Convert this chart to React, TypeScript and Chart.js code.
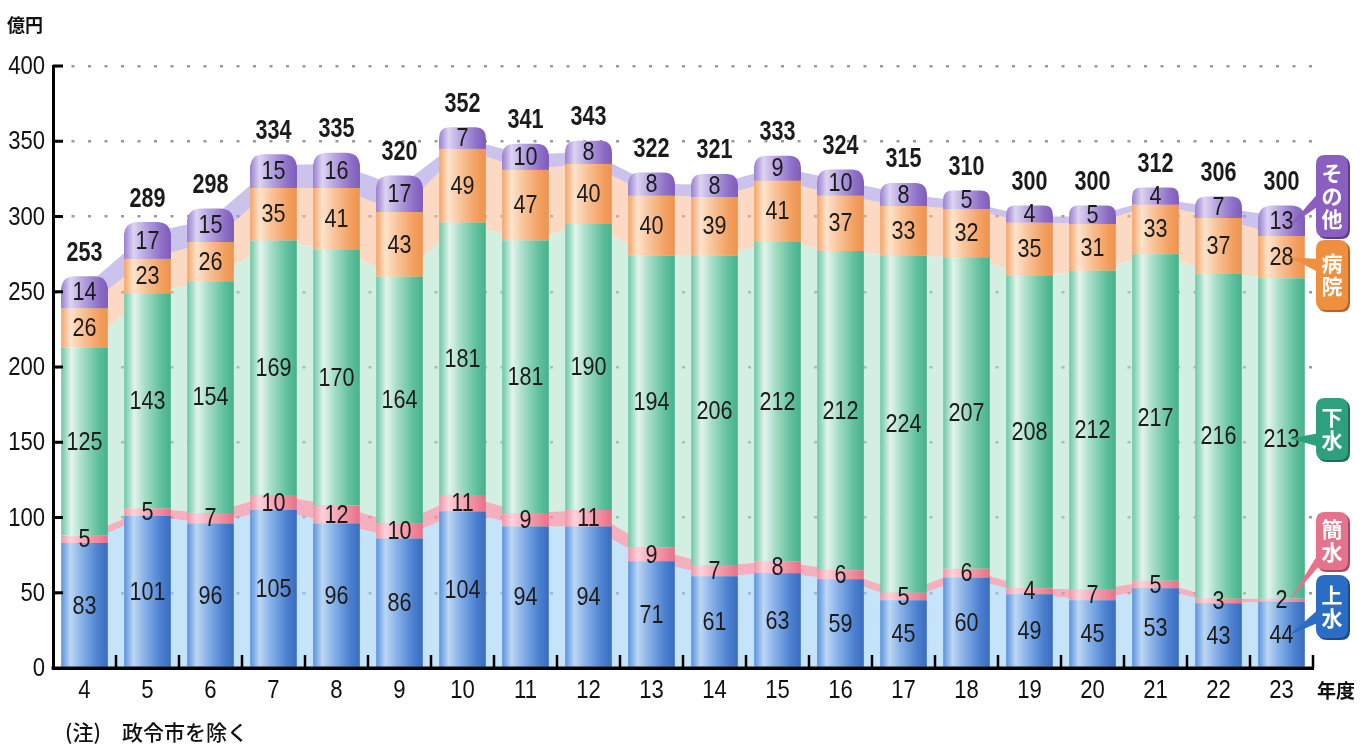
import React, { useEffect, useRef } from "react";
import { Chart, registerables } from "chart.js";
Chart.register(...registerables);

// ---- data ----
const years = ["4","5","6","7","8","9","10","11","12","13","14","15","16","17","18","19","20","21","22","23"];
const josui = [83,101,96,105,96,86,104,94,94,71,61,63,59,45,60,49,45,53,43,44];   // 上水
const kansui = [5,5,7,10,12,10,11,9,11,9,7,8,6,5,6,4,7,5,3,2];                     // 簡水
const gesui = [125,143,154,169,170,164,181,181,190,194,206,212,212,224,207,208,212,217,216,213]; // 下水
const byoin = [26,23,26,35,41,43,49,47,40,40,39,41,37,33,32,35,31,33,37,28];       // 病院
const sonota = [14,17,15,15,16,17,7,10,8,8,8,9,10,8,5,4,5,4,7,13];                  // その他
const totals = [253,289,298,334,335,320,352,341,343,322,321,333,324,315,310,300,300,312,306,300];
const seriesNames = ["上水","簡水","下水","病院","その他"];
const yMax = 400;
const yStep = 50;

// ---- styles ----
const series = [josui, kansui, gesui, byoin, sonota];
const BAR_PCT = 0.74;
const CAP = 11;
const NUM_FONT = '"Liberation Sans", Arial, sans-serif';
const JP_FONT = '"Noto Sans CJK JP", "Noto Sans", sans-serif';

type Stop = [number, string];
const barStops: Stop[][] = [
  [[0,"#5a92dc"],[0.2,"#bcd6f4"],[0.45,"#86b0e8"],[0.8,"#4a7fcf"],[1,"#3a6cbc"]],
  [[0,"#f093a4"],[0.2,"#fcd3dc"],[0.45,"#f6aebc"],[0.8,"#ee8799"],[1,"#e57188"]],
  [[0,"#6cc8a6"],[0.22,"#e2f4ec"],[0.45,"#a6ddc7"],[0.8,"#5ec09c"],[1,"#48b18c"]],
  [[0,"#f3a468"],[0.2,"#fde3cc"],[0.45,"#f9c49a"],[0.8,"#f3a060"],[1,"#ee9350"]],
  [[0,"#9b80cf"],[0.2,"#ddd3f2"],[0.45,"#b9a6e2"],[0.8,"#8f70c8"],[1,"#7e5db9"]],
];
const baseColors = ["#5a92dc","#f093a4","#6cc8a6","#f3a468","#9b80cf"];
const areaColors = [
  "rgba(160,210,245,0.6)",
  "rgba(242,150,170,0.75)",
  "rgba(175,225,200,0.55)",
  "rgba(248,185,145,0.55)",
  "rgba(170,155,225,0.6)",
];
const badgeStyles = [
  { color: "#2b6cc4", shadow: "#1b4a8c", top: 575, bottom: 638, anchor: 615 },
  { color: "#e6738c", shadow: "#a94a60", top: 512, bottom: 570, anchor: 558 },
  { color: "#2fa07e", shadow: "#1d6e55", top: 398, bottom: 460, anchor: 440 },
  { color: "#ef9040", shadow: "#b86420", top: 240, bottom: 310, anchor: 266 },
  { color: "#8b5fbf", shadow: "#5e3c8c", top: 155, bottom: 237, anchor: 198 },
];

function makeGradient(ctx: CanvasRenderingContext2D, cx: number, w: number, stops: Stop[]) {
  const g = ctx.createLinearGradient(cx - w / 2, 0, cx + w / 2, 0);
  stops.forEach(([o, c]) => g.addColorStop(o, c));
  return g;
}

function barColor(si: number) {
  return (c: any) => {
    const chart = c.chart;
    const xs = chart.scales && chart.scales.x;
    if (c.type !== "data" || !xs) return baseColors[si];
    const cx = xs.getPixelForValue(c.dataIndex);
    const w = (xs.width / years.length) * BAR_PCT;
    if (!isFinite(cx) || !isFinite(w) || w <= 0) return baseColors[si];
    return makeGradient(chart.ctx, cx, w, barStops[si]);
  };
}

function narrowText(ctx: CanvasRenderingContext2D, text: string, x: number, y: number, align: CanvasTextAlign, sx: number) {
  ctx.save();
  ctx.translate(x, y);
  ctx.scale(sx, 1);
  ctx.textAlign = align;
  ctx.textBaseline = "middle";
  ctx.fillText(text, 0, 0);
  ctx.restore();
}

function roundTopRect(ctx: CanvasRenderingContext2D, l: number, t: number, w: number, b: number, r: number) {
  ctx.beginPath();
  ctx.moveTo(l, b);
  ctx.lineTo(l, t + r);
  ctx.quadraticCurveTo(l, t, l + r, t);
  ctx.lineTo(l + w - r, t);
  ctx.quadraticCurveTo(l + w, t, l + w, t + r);
  ctx.lineTo(l + w, b);
  ctx.closePath();
}

function roundRect(ctx: CanvasRenderingContext2D, l: number, t: number, w: number, h: number, r: number) {
  ctx.beginPath();
  ctx.moveTo(l + r, t);
  ctx.lineTo(l + w - r, t);
  ctx.quadraticCurveTo(l + w, t, l + w, t + r);
  ctx.lineTo(l + w, t + h - r);
  ctx.quadraticCurveTo(l + w, t + h, l + w - r, t + h);
  ctx.lineTo(l + r, t + h);
  ctx.quadraticCurveTo(l, t + h, l, t + h - r);
  ctx.lineTo(l, t + r);
  ctx.quadraticCurveTo(l, t, l + r, t);
  ctx.closePath();
}

const overlay = {
  id: "overlay",
  afterDatasetsDraw(chart: any) {
    const { ctx, chartArea } = chart;
    const x = chart.scales.x;
    const y = chart.scales.y;
    const n = years.length;
    const cw = x.width / n;
    const bw = cw * BAR_PCT;
    ctx.save();
    // rounded caps on top of stacks
    for (let i = 0; i < n; i++) {
      const cx = x.getPixelForValue(i);
      const top = y.getPixelForValue(totals[i]) - CAP;
      const bot = y.getPixelForValue(totals[i] - sonota[i]);
      const r = Math.min(14, bw / 2, (bot - top) / 2);
      roundTopRect(ctx, cx - bw / 2, top, bw, bot, r);
      ctx.fillStyle = makeGradient(ctx, cx, bw, barStops[4]);
      ctx.fill();
    }
    // axis lines + tick marks
    ctx.strokeStyle = "#000";
    ctx.lineWidth = 3;
    ctx.beginPath();
    ctx.moveTo(chartArea.left - 1.5, chartArea.bottom);
    ctx.lineTo(chartArea.right, chartArea.bottom);
    ctx.stroke();
    ctx.lineWidth = 2.5;
    for (let i = 0; i < n; i++) {
      const bx = x.getPixelForValue(i) + cw / 2;
      ctx.beginPath();
      ctx.moveTo(bx, chartArea.bottom);
      ctx.lineTo(bx, chartArea.bottom - 13);
      ctx.stroke();
    }
    ctx.lineWidth = 3;
    for (let v = yStep; v <= yMax; v += yStep) {
      const py = y.getPixelForValue(v);
      ctx.beginPath();
      ctx.moveTo(chartArea.left, py);
      ctx.lineTo(chartArea.left + 10, py);
      ctx.stroke();
    }
    // tick labels (from the scales)
    ctx.fillStyle = "#111";
    ctx.font = `26px ${NUM_FONT}`;
    y.ticks.forEach((t: any) => {
      narrowText(ctx, String(t.value), chartArea.left - 8, y.getPixelForValue(t.value) + 1, "right", 0.85);
    });
    x.ticks.forEach((t: any, i: number) => {
      narrowText(ctx, String(x.getLabelForValue(t.value)), x.getPixelForValue(i), chartArea.bottom + 23, "center", 0.85);
    });
    // value labels
    ctx.fillStyle = "#1b1b1b";
    ctx.font = `26px ${NUM_FONT}`;
    for (let i = 0; i < n; i++) {
      const cx = x.getPixelForValue(i);
      let cum = 0;
      series.forEach((s, si) => {
        const v = s[i];
        const yb = y.getPixelForValue(cum);
        const yt = y.getPixelForValue(cum + v) - (si === 4 ? CAP : 0);
        narrowText(ctx, String(v), cx, (yb + yt) / 2 + 1, "center", 0.83);
        cum += v;
      });
    }
    ctx.font = `bold 27px ${NUM_FONT}`;
    for (let i = 0; i < n; i++) {
      const cx = x.getPixelForValue(i);
      narrowText(ctx, String(totals[i]), cx, y.getPixelForValue(totals[i]) - 34, "center", 0.8);
    }
    ctx.restore();
  },
  afterDraw(chart: any) {
    const { ctx, chartArea } = chart;
    const x = chart.scales.x;
    const y = chart.scales.y;
    const last = years.length - 1;
    const lcx = x.getPixelForValue(last);
    ctx.save();
    // badges
    const bl = chartArea.right + 3;
    const bW = 32;
    let cum = 0;
    series.forEach((s, si) => {
      const v = s[last];
      const segC = (y.getPixelForValue(cum) + y.getPixelForValue(cum + v)) / 2;
      cum += v;
      const st = badgeStyles[si];
      ctx.fillStyle = st.color;
      ctx.beginPath();
      ctx.moveTo(lcx + 8, segC);
      ctx.lineTo(bl + 4, st.anchor - 7);
      ctx.lineTo(bl + 4, st.anchor + 7);
      ctx.closePath();
      ctx.fill();
      roundRect(ctx, bl + 2, st.top + 2, bW, st.bottom - st.top, 9);
      ctx.fillStyle = st.shadow;
      ctx.fill();
      roundRect(ctx, bl, st.top, bW, st.bottom - st.top, 9);
      ctx.fillStyle = st.color;
      ctx.fill();
      const chars = Array.from(seriesNames[si]);
      const pitch = 23;
      const h = st.bottom - st.top;
      const start = st.top + (h - chars.length * pitch) / 2 + pitch / 2;
      ctx.fillStyle = "#fff";
      ctx.font = `bold 21px ${JP_FONT}`;
      ctx.textAlign = "center";
      ctx.textBaseline = "middle";
      chars.forEach((ch, k) => ctx.fillText(ch, bl + bW / 2, start + k * pitch));
    });
    // titles / notes
    ctx.fillStyle = "#111";
    ctx.textAlign = "left";
    ctx.textBaseline = "middle";
    ctx.font = `bold 18px ${JP_FONT}`;
    ctx.fillText("億円", 7, 25);
    ctx.font = `bold 19px ${JP_FONT}`;
    ctx.fillText("年度", chartArea.right + 4, 691);
    ctx.font = `500 21px ${JP_FONT}`;
    ctx.fillText("(注)", 65, 732);
    ctx.fillText("政令市を除く", 122, 732);
    ctx.restore();
  },
};

export default function App() {
  const ref = useRef<HTMLCanvasElement>(null);
  useEffect(() => {
    const canvas = ref.current;
    if (!canvas) return;
    const areaDatasets = series.map((s, si) => ({
      type: "line" as const,
      label: seriesNames[si] + "area",
      data: s,
      stack: "areas",
      fill: si === 0 ? "origin" : "-1",
      backgroundColor: areaColors[si],
      borderWidth: 0,
      pointRadius: 0,
      tension: 0,
      order: 2,
    }));
    const barDatasets = series.map((s, si) => ({
      type: "bar" as const,
      label: seriesNames[si],
      data: s,
      stack: "bars",
      backgroundColor: barColor(si),
      borderWidth: 0,
      categoryPercentage: 1,
      barPercentage: BAR_PCT,
      order: 1,
    }));
    const chart = new Chart(canvas, {
      type: "bar",
      data: { labels: years, datasets: [...areaDatasets, ...barDatasets] as any },
      options: {
        responsive: false,
        animation: false,
        events: [],
        layout: { padding: { left: 0, right: 56, top: 66, bottom: 0 } },
        plugins: { legend: { display: false }, tooltip: { enabled: false } },
        scales: {
          x: {
            stacked: true,
            grid: { display: false, drawTicks: false },
            border: { display: true, color: "#000", width: 3 },
            ticks: { display: false },
            afterFit: (s: any) => { s.height = 80; },
          },
          y: {
            stacked: true,
            min: 0,
            max: yMax,
            ticks: { stepSize: yStep, display: false },
            grid: { color: "#9a9a9a", lineWidth: 2.5, drawTicks: false },
            border: { display: true, color: "#000", width: 3, dash: [3, 13.5] },
            afterFit: (s: any) => { s.width = 53; },
          },
        },
      },
      plugins: [overlay],
    });
    return () => chart.destroy();
  }, []);
  return (
    <canvas
      ref={ref}
      width={1369}
      height={748}
      style={{ position: "absolute", left: 0, top: 0, width: 1369, height: 748, display: "block" }}
    />
  );
}
